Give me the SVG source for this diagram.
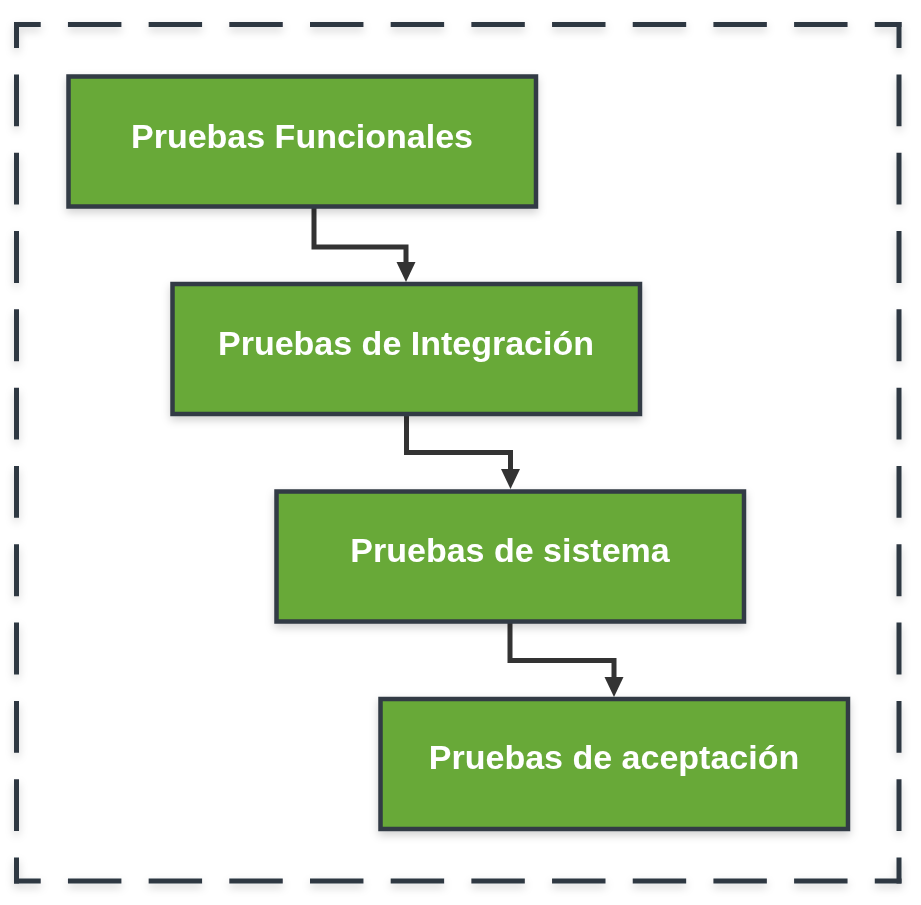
<svg xmlns="http://www.w3.org/2000/svg" width="921" height="905" viewBox="0 0 921 905">
  <defs>
    <filter id="shadow" x="-10%" y="-10%" width="120%" height="130%">
      <feDropShadow dx="0" dy="4" stdDeviation="4" flood-color="#000" flood-opacity="0.18"/>
    </filter>
    <marker id="arrow" viewBox="0 0 20 20" markerWidth="20" markerHeight="20" markerUnits="userSpaceOnUse" refX="3" refY="10" orient="auto">
      <path d="M0,0.5 L20,10 L0,19.5 Z" fill="#333333"/>
    </marker>
    <style>
      .frame { fill: none; stroke: #2f3742; stroke-width: 5; stroke-dasharray: 53 27; stroke-dashoffset: 26.5; }
      .box { fill: #67a939; stroke: #323a45; stroke-width: 4.5; }
      .label { font-family: "Liberation Sans", Arial, sans-serif; font-weight: bold; font-size: 34px; fill: #ffffff; text-anchor: middle; }
      .conn { fill: none; stroke: #333333; stroke-width: 5; marker-end: url(#arrow); }
    </style>
  </defs>

  <g id="frame" filter="url(#shadow)">
    <line class="frame" x1="14" y1="24.5" x2="901.5" y2="24.5" pathLength="880"/>
    <line class="frame" x1="899" y1="22" x2="899" y2="883.5" pathLength="880"/>
    <line class="frame" x1="901.5" y1="881" x2="14" y2="881" pathLength="880"/>
    <line class="frame" x1="16.5" y1="883.5" x2="16.5" y2="22" pathLength="880"/>
  </g>

  <g id="connectors">
    <path class="conn" d="M314,206.5 V247 H406 V265"/>
    <path class="conn" d="M406.5,414 V452.5 H510.5 V472"/>
    <path class="conn" d="M510,621.5 V660.5 H614 V680"/>
  </g>

  <g id="node1" filter="url(#shadow)">
    <rect class="box" x="68.5" y="76.5" width="467.5" height="130"/>
    <text class="label" x="302" y="148">Pruebas Funcionales</text>
  </g>
  <g id="node2" filter="url(#shadow)">
    <rect class="box" x="172.5" y="284" width="467.5" height="130"/>
    <text class="label" x="406" y="355">Pruebas de Integración</text>
  </g>
  <g id="node3" filter="url(#shadow)">
    <rect class="box" x="276.5" y="491.5" width="467.5" height="130"/>
    <text class="label" x="510" y="562">Pruebas de sistema</text>
  </g>
  <g id="node4" filter="url(#shadow)">
    <rect class="box" x="380.5" y="699" width="467.5" height="130"/>
    <text class="label" x="614" y="769">Pruebas de aceptación</text>
  </g>
</svg>
